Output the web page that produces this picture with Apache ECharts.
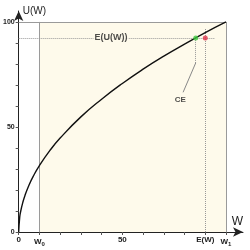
<!DOCTYPE html>
<html>
<head>
<meta charset="utf-8">
<script src="https://cdn.jsdelivr.net/npm/echarts@6/dist/echarts.min.js"></script>
<style>
html, body { margin: 0; padding: 0; background: #fff; }
#chart { width: 250px; height: 250px; }
</style>
</head>
<body>
<div id="chart"></div>
<script>
// utility curve
var wealth = [0, 0.5, 1, 2, 3, 5, 7, 10, 15, 20, 30, 40, 50, 60, 70, 80, 90, 100];
var utility = [0, 7.1, 10, 14.1, 17.3, 22.4, 26.5, 31.6, 38.7, 44.7, 54.8, 63.2, 70.7, 77.5, 83.7, 89.4, 94.9, 100];

var xTicks = [0, 10, 20, 30, 40, 50, 60, 70, 80, 90, 100];
var yTicks = [0, 10, 20, 30, 40, 50, 60, 70, 80, 90, 100];
var xLabelValues = [0, 10, 50, 90, 100];
var xLabelText = { 0: '0', 10: '{w|W}{s|0}', 50: '50', 90: 'E(W)', 100: '{w|W}{s|1}' };
var yLabelValues = [0, 50, 100];

var w0 = 10, w1 = 100;
var expW = 90;        // E(W)
var expU = 92.4;      // E(U(W))
var certEq = 85.4;    // CE

var cream = '#fefaeb';
var frame = '#9a9a9a';
var dotted = '#999';

var myChart = echarts.init(document.getElementById('chart'));
myChart.setOption({
  animation: false,
  grid: { left: 18, right: 7, top: 11, bottom: 18 },
  xAxis: {
    type: 'value', min: 0, max: 108.2,
    name: 'W', nameLocation: 'end', nameGap: 0, nameMoveOverlap: false,
    nameTextStyle: { fontFamily: 'Liberation Sans', fontSize: 12, color: '#222', align: 'right', verticalAlign: 'bottom', padding: [0, 0, 4, 0] },
    splitLine: { show: false },
    axisLine: { lineStyle: { color: '#222', width: 1 }, symbol: ['none', 'arrow'], symbolSize: [7, 10] },
    axisTick: { length: 3, lineStyle: { color: '#555' }, customValues: xTicks },
    axisLabel: {
      customValues: xLabelValues, margin: 4,
      fontFamily: 'Liberation Sans', fontWeight: 'bold', fontSize: 8, color: '#222',
      formatter: function (v) { return xLabelText[v] || ''; },
      rich: {
        w: { fontFamily: 'Liberation Sans', fontWeight: 'bold', fontSize: 8, color: '#222' },
        s: { fontFamily: 'Liberation Sans', fontWeight: 'bold', fontSize: 6, color: '#222', padding: [5, 0, 0, 0] }
      }
    }
  },
  yAxis: {
    type: 'value', min: 0, max: 105.2,
    name: 'U(W)', nameLocation: 'end', nameGap: 0, nameMoveOverlap: false,
    nameTextStyle: { fontFamily: 'Liberation Sans', fontSize: 10, color: '#222', align: 'left', verticalAlign: 'middle', padding: [0, 0, 0, 4] },
    splitLine: { show: false },
    axisLine: { lineStyle: { color: '#222', width: 1 }, symbol: ['none', 'arrow'], symbolSize: [7, 10] },
    axisTick: { length: 3, lineStyle: { color: '#555' }, customValues: yTicks },
    axisLabel: {
      customValues: yLabelValues, margin: 4,
      fontFamily: 'Liberation Sans', fontWeight: 'bold', fontSize: 7, color: '#222'
    }
  },
  series: [
    {
      // frame, shaded area and guide lines
      type: 'line', data: [], silent: true,
      markArea: {
        silent: true,
        itemStyle: { color: cream },
        data: [[{ coord: [w0, 0] }, { coord: [w1, 100] }]]
      },
      markLine: {
        silent: true, symbol: 'none', label: { show: false },
        data: [
          [{ coord: [0, 100], lineStyle: { color: frame, type: 'solid', width: 1 } }, { coord: [w1, 100] }],
          [{ coord: [w1, 0], lineStyle: { color: frame, type: 'solid', width: 1 } }, { coord: [w1, 100] }],
          [{ coord: [w0, 0], lineStyle: { color: frame, type: 'solid', width: 1 } }, { coord: [w0, 100] }],
          [{ coord: [0, expU], lineStyle: { color: dotted, type: 'dotted', width: 1 } }, { coord: [94.7, expU] }],
          [{ coord: [expW, 0], lineStyle: { color: dotted, type: 'dotted', width: 1 } }, { coord: [expW, 97] }],
          [{ coord: [certEq, expU], lineStyle: { color: dotted, type: 'dotted', width: 1 } }, { coord: [certEq, 80.5] }],
          [{ coord: [certEq, 80.5], lineStyle: { color: '#888', type: 'solid', width: 1 } }, { coord: [79.3, 66.5] }]
        ]
      }
    },
    {
      name: 'U(W)', type: 'line', smooth: true, showSymbol: false,
      lineStyle: { color: '#111', width: 1.4 },
      data: wealth.map(function (w, i) { return [w, utility[i]]; }),
      z: 5
    },
    {
      type: 'scatter', symbolSize: 5, z: 6,
      data: [
        { value: [certEq, expU], itemStyle: { color: '#3ecb3e' } },
        { value: [expW, expU], itemStyle: { color: '#e0334a' } }
      ]
    },
    {
      type: 'scatter', symbolSize: 0, z: 7,
      label: { show: true, position: 'inside', fontFamily: 'Liberation Sans', fontWeight: 'bold', color: '#222' },
      data: [
        { value: [44.5, expU], label: { formatter: 'E(U(W))', fontSize: 9, backgroundColor: cream, padding: [0, 1] } },
        { value: [78, 63], label: { formatter: 'CE', fontSize: 8 } }
      ]
    }
  ]
});
window.onresize = myChart.resize;
</script>
</body>
</html>
